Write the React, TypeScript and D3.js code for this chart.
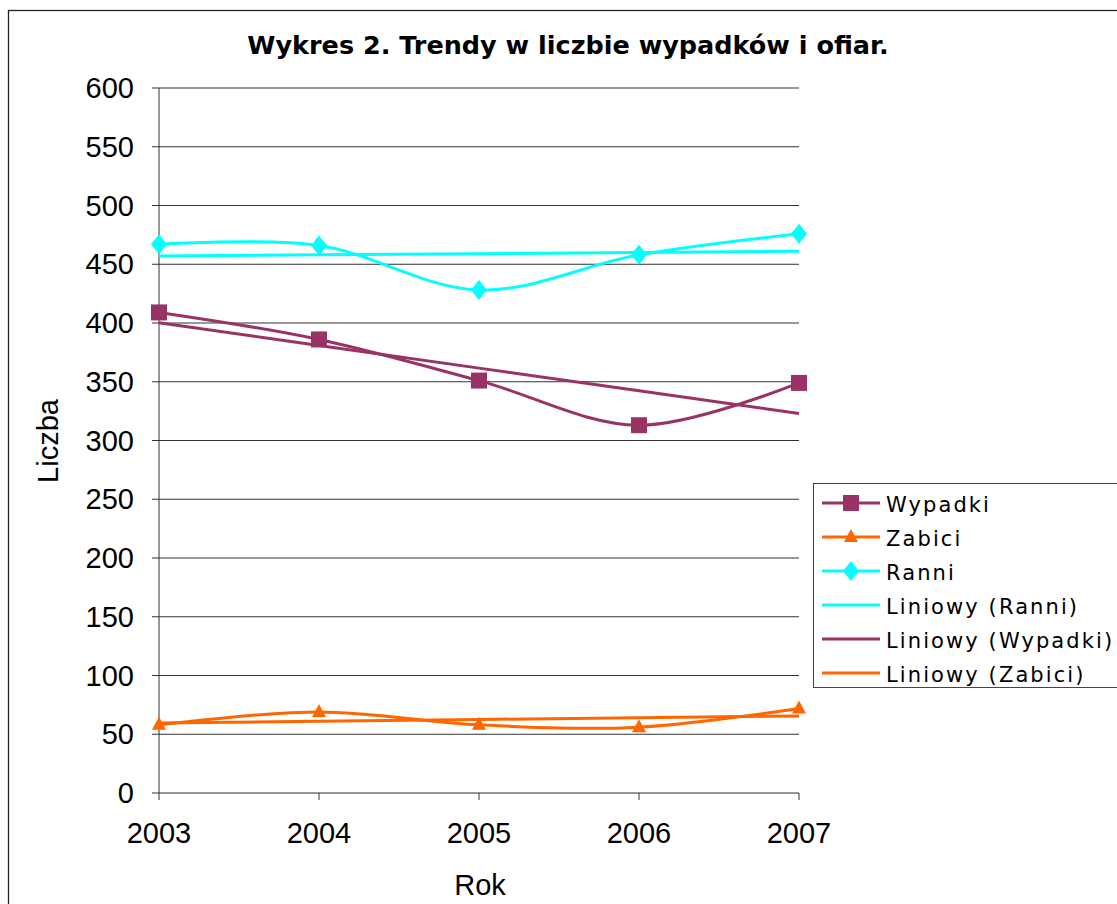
import React from "react";
import * as d3 from "d3";

const years = [2003, 2004, 2005, 2006, 2007];
const wypadki = [409, 386, 351, 313, 349];
const zabici = [58, 69, 58, 56, 72];
const ranni = [467, 466, 428, 458, 476];
const yTicks = [0, 50, 100, 150, 200, 250, 300, 350, 400, 450, 500, 550, 600];

const C_W = "#993366";
const C_Z = "#FF6600";
const C_R = "#00FFFF";

function linfit(vals: number[]) {
  const xs = vals.map((_, i) => i);
  const mx = d3.mean(xs)!;
  const my = d3.mean(vals)!;
  let num = 0, den = 0;
  xs.forEach((x, i) => { num += (x - mx) * (vals[i] - my); den += (x - mx) ** 2; });
  const b = num / den;
  return vals.map((_, i) => my + b * (i - mx));
}

export default function App() {
  const W = 1117, H = 904;
  const left = 159, right = 799, top = 88, bottom = 793;
  const x = d3.scalePoint<number>().domain(years).range([left, right]);
  const y = d3.scaleLinear().domain([0, 600]).range([bottom, top]);
  const smooth = d3.line<number>().x((_, i) => x(years[i])!).y(d => y(d)).curve(d3.curveCatmullRom.alpha(0));
  const straight = d3.line<number>().x((_, i) => x(years[i])!).y(d => y(d));
  const series = [
    { name: "Wypadki", vals: wypadki, color: C_W, marker: "square" },
    { name: "Zabici", vals: zabici, color: C_Z, marker: "triangle" },
    { name: "Ranni", vals: ranni, color: C_R, marker: "diamond" },
  ];
  const trends = [
    { name: "Liniowy (Ranni)", vals: linfit(ranni), color: C_R },
    { name: "Liniowy (Wypadki)", vals: linfit(wypadki), color: C_W },
    { name: "Liniowy (Zabici)", vals: linfit(zabici), color: C_Z },
  ];
  const marker = (m: string, cx: number, cy: number, color: string, key: any) => {
    if (m === "square") return <rect key={key} x={cx - 8} y={cy - 8} width={16} height={16} fill={color} />;
    if (m === "triangle") return <path key={key} d={`M${cx},${cy - 8}L${cx + 7},${cy + 5}L${cx - 7},${cy + 5}Z`} fill={color} />;
    return <path key={key} d={`M${cx},${cy - 10}L${cx + 8},${cy}L${cx},${cy + 10}L${cx - 8},${cy}Z`} fill={color} />;
  };
  const legendItems = [
    ...series.map(s => ({ name: s.name, color: s.color, marker: s.marker })),
    ...trends.map(t => ({ name: t.name, color: t.color, marker: "" })),
  ];
  return (
    <svg width={W} height={H} style={{ position: "absolute", left: 0, top: 0, background: "#fff" }}>
      <rect x={8.5} y={10.5} width={W + 10} height={H + 10} fill="#fff" stroke="#222" strokeWidth={1.3} />
      <text x={568} y={54} textAnchor="middle" fontFamily="DejaVu Sans" fontWeight="bold" fontSize={25.5} fill="#000">
        Wykres 2. Trendy w liczbie wypadków i ofiar.
      </text>
      {yTicks.map(t => (
        <g key={t}>
          {t > 0 && <line x1={left} x2={right} y1={y(t)} y2={y(t)} stroke="#333" strokeWidth={1} />}
          <line x1={left - 7} x2={left} y1={y(t)} y2={y(t)} stroke="#333" strokeWidth={1} />
          <text x={134} y={y(t)} dy="0.35em" textAnchor="end" fontFamily="Liberation Sans" fontSize={29} fill="#000">{t}</text>
        </g>
      ))}
      <line x1={left} x2={left} y1={top} y2={bottom} stroke="#333" strokeWidth={1} />
      <line x1={left} x2={right} y1={bottom} y2={bottom} stroke="#333" strokeWidth={1} />
      {years.map(yr => (
        <g key={yr}>
          <line x1={x(yr)} x2={x(yr)} y1={bottom} y2={bottom + 7} stroke="#333" />
          <text x={x(yr)} y={843} textAnchor="middle" fontFamily="Liberation Sans" fontSize={29} fill="#000">{yr}</text>
        </g>
      ))}
      <text x={480} y={895} textAnchor="middle" fontFamily="Liberation Sans" fontSize={29} fill="#000">Rok</text>
      <text transform="translate(58,441) rotate(-90)" textAnchor="middle" fontFamily="Liberation Sans" fontSize={29} fill="#000">Liczba</text>
      {trends.map(t => (
        <path key={t.name} d={straight(t.vals)!} fill="none" stroke={t.color} strokeWidth={3} />
      ))}
      {series.map(s => (
        <g key={s.name}>
          <path d={smooth(s.vals)!} fill="none" stroke={s.color} strokeWidth={3} />
          {s.vals.map((v, i) => marker(s.marker, x(years[i])!, y(v), s.color, i))}
        </g>
      ))}
      <rect x={813.5} y={483.5} width={320} height={204} fill="#fff" stroke="#444" strokeWidth={1} />
      {legendItems.map((it, i) => {
        const cy = 503 + i * 34;
        return (
          <g key={it.name}>
            <line x1={822} x2={880} y1={cy} y2={cy} stroke={it.color} strokeWidth={3} />
            {it.marker && marker(it.marker, 851, cy, it.color, "m")}
            <text x={886} y={cy} dy="0.42em" fontFamily="DejaVu Sans" fontSize={21} letterSpacing={2.1} fill="#000">{it.name}</text>
          </g>
        );
      })}
    </svg>
  );
}
